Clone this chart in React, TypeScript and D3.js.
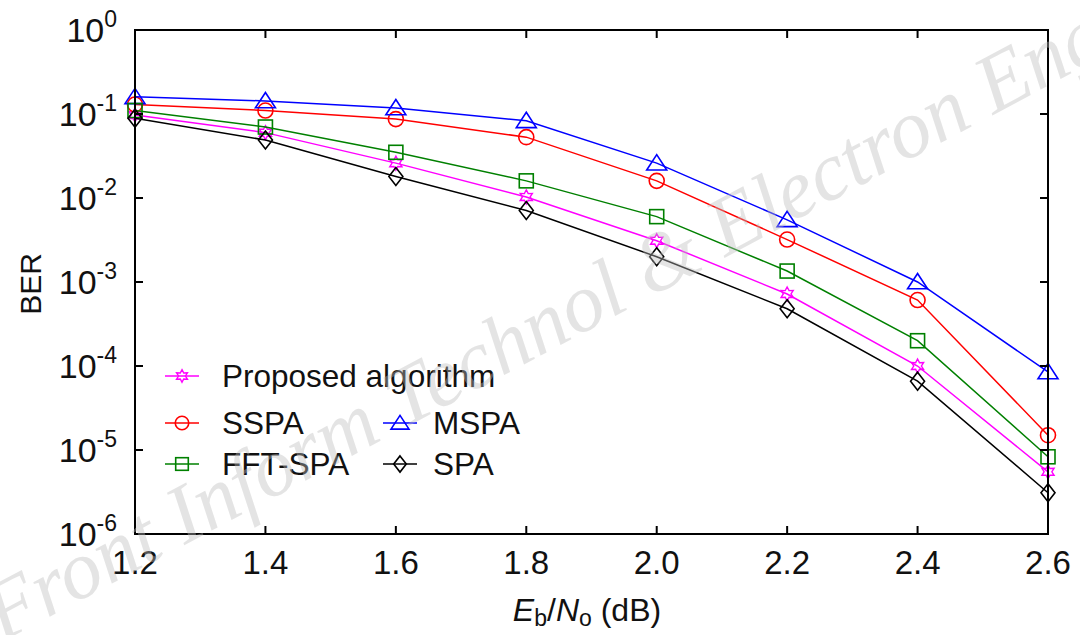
import * as d3 from "d3";

const snr = [1.2, 1.4, 1.6, 1.8, 2.0, 2.2, 2.4, 2.6];
const proposed = [0.097, 0.06, 0.026, 0.0103, 0.0031, 0.00072, 0.0001, 5.5e-6];
const sspa = [0.13, 0.11, 0.087, 0.053, 0.016, 0.0032, 0.00061, 1.5e-5];
const mspa = [0.16, 0.143, 0.118, 0.083, 0.026, 0.0055, 0.001, 8.5e-5];
const fftSpa = [0.11, 0.07, 0.035, 0.016, 0.006, 0.00135, 0.0002, 8.3e-6];
const spa = [0.089, 0.049, 0.018, 0.0071, 0.002, 0.00048, 6.6e-5, 3.1e-6];
const xTicks = ["1.2", "1.4", "1.6", "1.8", "2.0", "2.2", "2.4", "2.6"];
const yExponents = [0, -1, -2, -3, -4, -5, -6];

const series = [
  { name: "Proposed algorithm", values: proposed, color: "#ff00ff", marker: "star" },
  { name: "SSPA", values: sspa, color: "#ff0000", marker: "circle" },
  { name: "MSPA", values: mspa, color: "#0000ff", marker: "triangle" },
  { name: "FFT-SPA", values: fftSpa, color: "#008000", marker: "square" },
  { name: "SPA", values: spa, color: "#000000", marker: "diamond" },
];

const W = 1080;
const H = 635;
const m = { left: 135, right: 1048, top: 30, bottom: 534 };
const font = "Arial, 'Liberation Sans', sans-serif";

function Marker({ type, x, y, color, s = 1 }: { type: string; x: number; y: number; color: string; s?: number }) {
  const common = { fill: "none", stroke: color, strokeWidth: 1.6 };
  if (type === "circle") return <circle cx={x} cy={y} r={7.5 * s} {...common} />;
  if (type === "square") return <rect x={x - 7 * s} y={y - 7 * s} width={14 * s} height={14 * s} {...common} />;
  if (type === "triangle") {
    const w = 10 * s, h = 8.5 * s;
    return <path d={`M${x},${y - h}L${x + w},${y + h * 0.8}L${x - w},${y + h * 0.8}Z`} {...common} />;
  }
  if (type === "diamond") {
    const w = 7 * s, h = 9 * s;
    return <path d={`M${x},${y - h}L${x + w},${y}L${x},${y + h}L${x - w},${y}Z`} {...common} />;
  }
  // six-point star
  const r = 7 * s;
  const pts = d3.range(12).map((i) => {
    const a = (Math.PI / 6) * i - Math.PI / 2;
    const rr = i % 2 === 0 ? r : r * 0.55;
    return [x + rr * Math.cos(a), y + rr * Math.sin(a)];
  });
  return <path d={`M${pts.map((p) => p.join(",")).join("L")}Z`} {...common} strokeWidth={1.4} />;
}

export default function App() {
  const x = d3.scaleLinear().domain([1.2, 2.6]).range([m.left, m.right]);
  const y = d3.scaleLog().domain([1, 1e-6]).range([m.top, m.bottom]);
  const line = d3
    .line<number>()
    .x((_, i) => x(snr[i]))
    .y((d) => y(d));

  const tickLen = 8;
  const legendRows = [
    { s: series[0], lx: 165, ly: 376, tx: 222 },
    { s: series[1], lx: 165, ly: 423, tx: 222 },
    { s: series[2], lx: 383, ly: 423, tx: 433 },
    { s: series[3], lx: 165, ly: 464, tx: 222 },
    { s: series[4], lx: 383, ly: 464, tx: 433 },
  ];

  return (
    <svg
      width={W}
      height={H}
      viewBox={`0 0 ${W} ${H}`}
      style={{ position: "absolute", left: 0, top: 0, background: "#fff" }}
    >
      <rect x={0} y={0} width={W} height={H} fill="#fff" />
      {/* series */}
      {series.map((s) => (
        <g key={s.name}>
          <path d={line(s.values) ?? ""} fill="none" stroke={s.color} strokeWidth={1.5} />
          {s.values.map((v, i) => (
            <Marker key={i} type={s.marker} x={x(snr[i])} y={y(v)} color={s.color} />
          ))}
        </g>
      ))}

      {/* frame + ticks */}
      <rect
        x={m.left}
        y={m.top}
        width={m.right - m.left}
        height={m.bottom - m.top}
        fill="none"
        stroke="#000"
        strokeWidth={2}
      />
      {snr.slice(1, -1).map((t) => (
        <g key={t} stroke="#000" strokeWidth={2}>
          <line x1={x(t)} x2={x(t)} y1={m.bottom} y2={m.bottom - tickLen} />
          <line x1={x(t)} x2={x(t)} y1={m.top} y2={m.top + tickLen} />
        </g>
      ))}
      {yExponents.slice(1, -1).map((e) => (
        <g key={e} stroke="#000" strokeWidth={2}>
          <line x1={m.left} x2={m.left + tickLen} y1={y(Math.pow(10, e))} y2={y(Math.pow(10, e))} />
          <line x1={m.right} x2={m.right - tickLen} y1={y(Math.pow(10, e))} y2={y(Math.pow(10, e))} />
        </g>
      ))}

      {/* x tick labels */}
      {snr.map((t, i) => (
        <text
          key={t}
          x={x(t)}
          y={574}
          textAnchor="middle"
          fontFamily={font}
          fontSize={33}
          fill="#111"
        >
          {xTicks[i]}
        </text>
      ))}

      {/* y tick labels */}
      {yExponents.map((e) => {
        const yy = y(Math.pow(10, e));
        return (
          <text key={e} x={117} y={yy + 12} textAnchor="end" fontFamily={font} fill="#111">
            <tspan fontSize={34}>10</tspan>
            <tspan fontSize={23} dy={-15}>
              {e === 0 ? "0" : `-${-e}`}
            </tspan>
          </text>
        );
      })}

      {/* axis titles */}
      <text
        transform="translate(41,284) rotate(-90)"
        textAnchor="middle"
        fontFamily={font}
        fontSize={30}
        fill="#111"
      >
        BER
      </text>
      <text x={587} y={621} textAnchor="middle" fontFamily={font} fontSize={32} fill="#111">
        <tspan fontStyle="italic">E</tspan>
        <tspan fontSize={23} dy={5}>b</tspan>
        <tspan dy={-5}>/</tspan>
        <tspan fontStyle="italic">N</tspan>
        <tspan fontSize={23} dy={5}>o</tspan>
        <tspan dy={-5}> (dB)</tspan>
      </text>

      {/* legend */}
      {legendRows.map(({ s, lx, ly, tx }) => (
        <g key={s.name}>
          <line x1={lx} x2={lx + 34} y1={ly} y2={ly} stroke={s.color} strokeWidth={1.5} />
          <Marker type={s.marker} x={lx + 17} y={ly} color={s.color} s={0.9} />
          <text x={tx} y={ly + 11} fontFamily={font} fontSize={31.5} fill="#111">
            {s.name}
          </text>
        </g>
      ))}

      {/* watermark */}
      <text
        transform="translate(2,642) rotate(-28)"
        fontFamily="'Liberation Serif', 'DejaVu Serif', serif"
        fontStyle="italic"
        fontSize={83}
        fill="#bdbdbd"
        opacity={0.4}
      >
        Front Inform Technol &amp; Electron Eng
      </text>
    </svg>
  );
}
